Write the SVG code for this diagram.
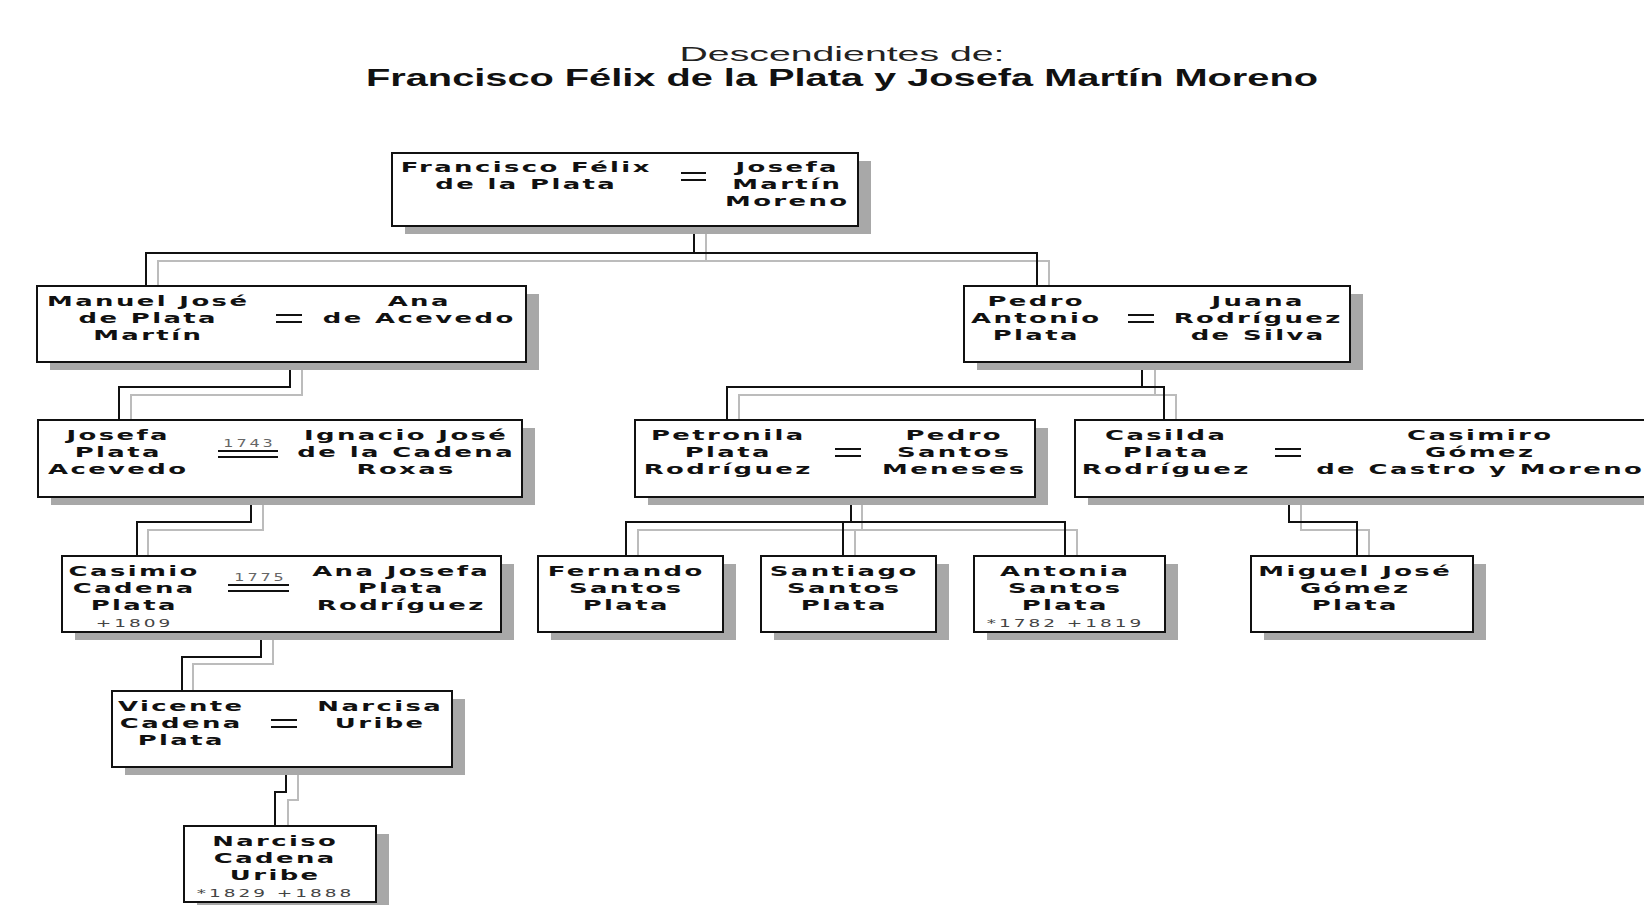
<svg xmlns="http://www.w3.org/2000/svg" width="1644" height="905" viewBox="0 0 1644 905">
  <style>
    .bg { fill: #ffffff; }
    .shadow { fill: #a8a8a8; }
    .box { fill: #ffffff; stroke: #111111; stroke-width: 2; }
    .wire { fill: none; stroke: #111111; stroke-width: 2; }
    .wire-s { fill: none; stroke: #bcbcbc; stroke-width: 2; }
    .eq { stroke: #111111; stroke-width: 2; }
    .n { font-family: "DejaVu Sans", "Liberation Sans", sans-serif; font-weight: bold; font-size: 14px; letter-spacing: 1.3px; text-anchor: middle; fill: #111111; }
    .d { font-family: "DejaVu Sans", "Liberation Sans", sans-serif; font-size: 10px; letter-spacing: 1.6px; text-anchor: middle; fill: #444444; }
    .yr { font-family: "DejaVu Sans", "Liberation Sans", sans-serif; font-size: 10px; letter-spacing: 1.8px; text-anchor: middle; fill: #666666; }
    .t1 { font-family: "Liberation Sans", Arial, sans-serif; font-size: 21px; text-anchor: middle; fill: #222222; }
    .t2 { font-family: "Liberation Sans", Arial, sans-serif; font-weight: bold; font-size: 23px; text-anchor: middle; fill: #111111; }
  </style>

  <rect class="bg" x="0" y="0" width="1644" height="905"/>

  <!-- heading -->
  <g id="title">
    <text class="t1" x="842" y="61" textLength="325" lengthAdjust="spacingAndGlyphs">Descendientes de:</text>
    <text class="t2" x="842" y="86" textLength="952" lengthAdjust="spacingAndGlyphs">Francisco Félix de la Plata y Josefa Martín Moreno</text>
  </g>

  <!-- descent lines: grey offset trace first, black line on top -->
  <g id="connectors">
    <g class="shadow-lines">
      <path class="wire-s" d="M706,226 V261"/>
      <path class="wire-s" d="M158,286 V261 H1049 V286"/>
      <path class="wire-s" d="M302,362 V395 H131 V420"/>
      <path class="wire-s" d="M1155,362 V395"/>
      <path class="wire-s" d="M739,420 V395 H1176 V420"/>
      <path class="wire-s" d="M263,497 V530 H148 V556"/>
      <path class="wire-s" d="M862,497 V530"/>
      <path class="wire-s" d="M638,556 V530 H1077 V556"/>
      <path class="wire-s" d="M855,530 V556"/>
      <path class="wire-s" d="M1301,497 V530 H1369 V556"/>
      <path class="wire-s" d="M273,632 V664 H193 V691"/>
      <path class="wire-s" d="M298,767 V800 H288 V826"/>
    </g>
    <g class="lines">
      <path class="wire" d="M694,226 V253"/>
      <path class="wire" d="M146,286 V253 H1037 V286"/>
      <path class="wire" d="M290,362 V387 H119 V420"/>
      <path class="wire" d="M1142,362 V387"/>
      <path class="wire" d="M727,420 V387 H1164 V420"/>
      <path class="wire" d="M251,497 V522 H137 V556"/>
      <path class="wire" d="M851,497 V522"/>
      <path class="wire" d="M626,556 V522 H1065 V556"/>
      <path class="wire" d="M843,522 V556"/>
      <path class="wire" d="M1289,497 V522 H1357 V556"/>
      <path class="wire" d="M261,632 V657 H182 V691"/>
      <path class="wire" d="M286,767 V792 H275 V826"/>
    </g>
  </g>

  <!-- Francisco Félix = Josefa -->
  <g id="n-francisco">
    <rect class="shadow" x="405" y="161" width="466" height="73"/>
    <rect class="box" x="392" y="153" width="466" height="73"/>
    <g transform="translate(525 0) scale(1.85 1)">
      <text class="n" x="0.65" y="172.5">Francisco Félix</text>
      <text class="n" x="0.65" y="189.5">de la Plata</text>
    </g>
    <line class="eq" x1="681" y1="173" x2="706" y2="173"/>
    <line class="eq" x1="681" y1="180" x2="706" y2="180"/>
    <g transform="translate(786 0) scale(1.85 1)">
      <text class="n" x="0.65" y="172.5">Josefa</text>
      <text class="n" x="0.65" y="189.5">Martín</text>
      <text class="n" x="0.65" y="206.5">Moreno</text>
    </g>
  </g>

  <!-- Manuel José = Ana -->
  <g id="n-manuel">
    <rect class="shadow" x="50" y="294" width="489" height="76"/>
    <rect class="box" x="37" y="286" width="489" height="76"/>
    <g transform="translate(147 0) scale(1.85 1)">
      <text class="n" x="0.65" y="306">Manuel José</text>
      <text class="n" x="0.65" y="323">de Plata</text>
      <text class="n" x="0.65" y="340">Martín</text>
    </g>
    <line class="eq" x1="276" y1="315" x2="302" y2="315"/>
    <line class="eq" x1="276" y1="322" x2="302" y2="322"/>
    <g transform="translate(418 0) scale(1.85 1)">
      <text class="n" x="0.65" y="306">Ana</text>
      <text class="n" x="0.65" y="323">de Acevedo</text>
    </g>
  </g>

  <!-- Pedro Antonio = Juana -->
  <g id="n-pedro">
    <rect class="shadow" x="977" y="294" width="386" height="76"/>
    <rect class="box" x="964" y="286" width="386" height="76"/>
    <g transform="translate(1035 0) scale(1.85 1)">
      <text class="n" x="0.65" y="306">Pedro</text>
      <text class="n" x="0.65" y="323">Antonio</text>
      <text class="n" x="0.65" y="340">Plata</text>
    </g>
    <line class="eq" x1="1128" y1="315" x2="1154" y2="315"/>
    <line class="eq" x1="1128" y1="322" x2="1154" y2="322"/>
    <g transform="translate(1257 0) scale(1.85 1)">
      <text class="n" x="0.65" y="306">Juana</text>
      <text class="n" x="0.65" y="323">Rodríguez</text>
      <text class="n" x="0.65" y="340">de Silva</text>
    </g>
  </g>

  <!-- Josefa = Ignacio José, 1743 -->
  <g id="n-josefa">
    <rect class="shadow" x="51" y="428" width="484" height="77"/>
    <rect class="box" x="38" y="420" width="484" height="77"/>
    <g transform="translate(117 0) scale(1.85 1)">
      <text class="n" x="0.65" y="440">Josefa</text>
      <text class="n" x="0.65" y="457">Plata</text>
      <text class="n" x="0.65" y="474">Acevedo</text>
    </g>
    <text class="yr" transform="translate(248 0) scale(1.6 1)" x="0.9" y="447">1743</text>
    <line class="eq" x1="218" y1="451" x2="278" y2="451"/>
    <line class="eq" x1="218" y1="457" x2="278" y2="457"/>
    <g transform="translate(405 0) scale(1.85 1)">
      <text class="n" x="0.65" y="440">Ignacio José</text>
      <text class="n" x="0.65" y="457">de la Cadena</text>
      <text class="n" x="0.65" y="474">Roxas</text>
    </g>
  </g>

  <!-- Petronila = Pedro Santos -->
  <g id="n-petronila">
    <rect class="shadow" x="648" y="428" width="400" height="77"/>
    <rect class="box" x="635" y="420" width="400" height="77"/>
    <g transform="translate(727 0) scale(1.85 1)">
      <text class="n" x="0.65" y="440">Petronila</text>
      <text class="n" x="0.65" y="457">Plata</text>
      <text class="n" x="0.65" y="474">Rodríguez</text>
    </g>
    <line class="eq" x1="835" y1="449" x2="861" y2="449"/>
    <line class="eq" x1="835" y1="456" x2="861" y2="456"/>
    <g transform="translate(953 0) scale(1.85 1)">
      <text class="n" x="0.65" y="440">Pedro</text>
      <text class="n" x="0.65" y="457">Santos</text>
      <text class="n" x="0.65" y="474">Meneses</text>
    </g>
  </g>

  <!-- Casilda = Casimiro -->
  <g id="n-casilda">
    <rect class="shadow" x="1088" y="428" width="600" height="77"/>
    <rect class="box" x="1075" y="420" width="600" height="77"/>
    <g transform="translate(1165 0) scale(1.85 1)">
      <text class="n" x="0.65" y="440">Casilda</text>
      <text class="n" x="0.65" y="457">Plata</text>
      <text class="n" x="0.65" y="474">Rodríguez</text>
    </g>
    <line class="eq" x1="1275" y1="449" x2="1301" y2="449"/>
    <line class="eq" x1="1275" y1="456" x2="1301" y2="456"/>
    <g transform="translate(1479 0) scale(1.85 1)">
      <text class="n" x="0.65" y="440">Casimiro</text>
      <text class="n" x="0.65" y="457">Gómez</text>
      <text class="n" x="0.65" y="474">de Castro y Moreno</text>
    </g>
  </g>

  <!-- Casimio = Ana Josefa, 1775 -->
  <g id="n-casimio">
    <rect class="shadow" x="75" y="564" width="439" height="76"/>
    <rect class="box" x="62" y="556" width="439" height="76"/>
    <g transform="translate(133 0) scale(1.85 1)">
      <text class="n" x="0.65" y="576">Casimio</text>
      <text class="n" x="0.65" y="593">Cadena</text>
      <text class="n" x="0.65" y="610">Plata</text>
      <text class="d" x="0.8" y="627">+1809</text>
    </g>
    <text class="yr" transform="translate(259 0) scale(1.6 1)" x="0.9" y="581">1775</text>
    <line class="eq" x1="228" y1="585" x2="289" y2="585"/>
    <line class="eq" x1="228" y1="591" x2="289" y2="591"/>
    <g transform="translate(400 0) scale(1.85 1)">
      <text class="n" x="0.65" y="576">Ana Josefa</text>
      <text class="n" x="0.65" y="593">Plata</text>
      <text class="n" x="0.65" y="610">Rodríguez</text>
    </g>
  </g>

  <g id="n-fernando">
    <rect class="shadow" x="551" y="564" width="185" height="76"/>
    <rect class="box" x="538" y="556" width="185" height="76"/>
    <g transform="translate(625 0) scale(1.85 1)">
      <text class="n" x="0.65" y="576">Fernando</text>
      <text class="n" x="0.65" y="593">Santos</text>
      <text class="n" x="0.65" y="610">Plata</text>
    </g>
  </g>

  <g id="n-santiago">
    <rect class="shadow" x="774" y="564" width="175" height="76"/>
    <rect class="box" x="761" y="556" width="175" height="76"/>
    <g transform="translate(843 0) scale(1.85 1)">
      <text class="n" x="0.65" y="576">Santiago</text>
      <text class="n" x="0.65" y="593">Santos</text>
      <text class="n" x="0.65" y="610">Plata</text>
    </g>
  </g>

  <g id="n-antonia">
    <rect class="shadow" x="987" y="564" width="191" height="76"/>
    <rect class="box" x="974" y="556" width="191" height="76"/>
    <g transform="translate(1064 0) scale(1.85 1)">
      <text class="n" x="0.65" y="576">Antonia</text>
      <text class="n" x="0.65" y="593">Santos</text>
      <text class="n" x="0.65" y="610">Plata</text>
      <text class="d" x="0.8" y="627">*1782 +1819</text>
    </g>
  </g>

  <g id="n-miguel">
    <rect class="shadow" x="1264" y="564" width="222" height="76"/>
    <rect class="box" x="1251" y="556" width="222" height="76"/>
    <g transform="translate(1354 0) scale(1.85 1)">
      <text class="n" x="0.65" y="576">Miguel José</text>
      <text class="n" x="0.65" y="593">Gómez</text>
      <text class="n" x="0.65" y="610">Plata</text>
    </g>
  </g>

  <!-- Vicente = Narcisa -->
  <g id="n-vicente">
    <rect class="shadow" x="125" y="699" width="340" height="76"/>
    <rect class="box" x="112" y="691" width="340" height="76"/>
    <g transform="translate(180 0) scale(1.85 1)">
      <text class="n" x="0.65" y="711">Vicente</text>
      <text class="n" x="0.65" y="728">Cadena</text>
      <text class="n" x="0.65" y="745">Plata</text>
    </g>
    <line class="eq" x1="271" y1="720" x2="297" y2="720"/>
    <line class="eq" x1="271" y1="727" x2="297" y2="727"/>
    <g transform="translate(379 0) scale(1.85 1)">
      <text class="n" x="0.65" y="711">Narcisa</text>
      <text class="n" x="0.65" y="728">Uribe</text>
    </g>
  </g>

  <g id="n-narciso">
    <rect class="shadow" x="197" y="834" width="192" height="76"/>
    <rect class="box" x="184" y="826" width="192" height="76"/>
    <g transform="translate(274 0) scale(1.85 1)">
      <text class="n" x="0.65" y="846">Narciso</text>
      <text class="n" x="0.65" y="863">Cadena</text>
      <text class="n" x="0.65" y="880">Uribe</text>
      <text class="d" x="0.8" y="897">*1829 +1888</text>
    </g>
  </g>
</svg>
